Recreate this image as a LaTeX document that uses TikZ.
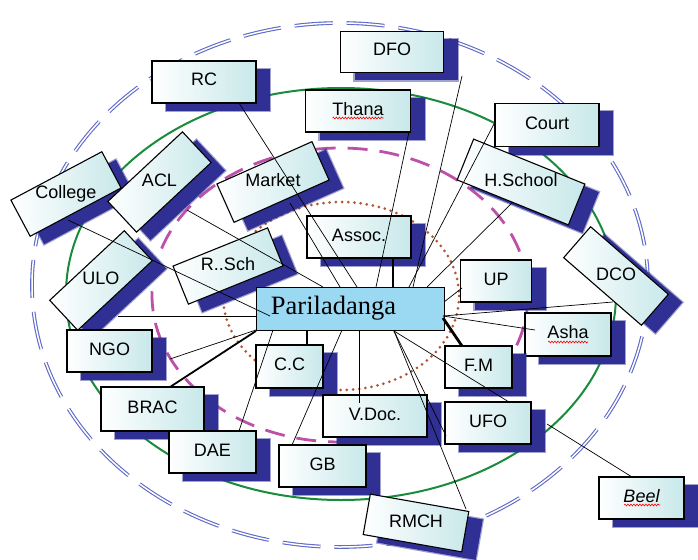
\documentclass[tikz,border=0pt]{standalone}
\usepackage{fontspec}
\setmainfont{Liberation Serif}
\newfontfamily\lsans{Liberation Sans}
\usetikzlibrary{decorations.pathmorphing}
\definecolor{shadowblue}{RGB}{48,48,148}
\definecolor{boxteal}{RGB}{200,232,234}
\definecolor{pariblue}{RGB}{155,217,243}
\definecolor{ellblue}{RGB}{95,105,200}
\definecolor{ellgreen}{RGB}{25,140,60}
\definecolor{ellmag}{RGB}{190,80,170}
\definecolor{elldot}{RGB}{180,85,45}
\newcommand\nbox[7]{%
  \node[sbox, minimum width=#4pt, minimum height=#5pt, rotate=#6] (#1s) at (#2+14,#3+8) {};
  \node[mbox, minimum width=#4pt, minimum height=#5pt, rotate=#6] (#1) at (#2,#3) {};
  \node[lbl] (#1l) at (#1.center) {#7};}
\begin{document}
\begin{tikzpicture}[x=1pt,y=-1pt,
  sbox/.style={fill=shadowblue, draw=shadowblue, draw opacity=0.45, line width=2.4pt, inner sep=0pt},
  mbox/.style={draw=black, line width=1.1pt, left color=white, right color=boxteal, inner sep=0pt},
  lbl/.style={inner sep=0pt, font=\lsans\fontsize{18}{20}\selectfont, text height=13pt, text depth=5pt},
  conn/.style={line width=0.7pt},
  heavy/.style={line width=2.8pt},
  wavy/.style={red, line width=0.6pt, decorate, decoration={snake, amplitude=0.9pt, segment length=3pt}},
]
\useasboundingbox (0,0) rectangle (698,559);
% ellipses
\draw[ellblue, line width=1.1pt, double=white, double distance=1.5pt, dash pattern=on 38pt off 14pt] (340,285) ellipse [x radius=308, y radius=262];
\draw[ellgreen, line width=2pt] (341,294) ellipse [x radius=275, y radius=206];
\draw[ellmag, line width=2.8pt, dash pattern=on 20pt off 12pt] (340,295) ellipse [x radius=188, y radius=147];
\draw[elldot, line width=3pt, line cap=round, dash pattern=on 0pt off 6.2pt] (341,296) ellipse [x radius=118, y radius=94];
% boxes
\nbox{DFO}{392}{52}{103}{41}{0}{DFO}
\nbox{RC}{204}{82}{104}{42}{0}{RC}
\nbox{Thana}{358}{111}{105}{42}{0}{Thana}
\nbox{Court}{547}{125}{104}{43}{0}{Court}
\nbox{HSchool}{521}{182}{120}{44}{-22}{H.School}
\nbox{College}{66}{194}{103}{41}{28}{College}
\nbox{ACL}{159.5}{182}{102}{42}{43}{ACL}
\nbox{Market}{273}{182}{104}{42}{24}{Market}
\nbox{ULO}{101}{280.5}{102}{41}{43}{ULO}
\nbox{RSch}{228}{266}{102}{41}{22}{R..Sch}
\nbox{Assoc}{359}{237}{104}{42}{0}{Assoc.}
\nbox{UP}{496}{281}{71}{42}{0}{UP}
\nbox{DCO}{616}{276}{103}{41}{-41}{DCO}
\nbox{Asha}{568}{334.5}{86}{43}{0}{Asha}
\nbox{NGO}{109.5}{351}{85}{42}{0}{NGO}
\nbox{CC}{289.5}{366.5}{67}{43}{0}{C.C}
\nbox{FM}{478.5}{367}{67}{42}{0}{F.M}
\nbox{BRAC}{152.5}{409}{103}{44}{0}{BRAC}
\nbox{VDoc}{375}{416}{104}{42}{0}{V.Doc.}
\nbox{UFO}{488}{423}{86}{42}{0}{UFO}
\nbox{DAE}{212.5}{452}{87}{42}{0}{DAE}
\nbox{GB}{322.5}{466}{87}{42}{0}{GB}
\nbox{RMCH}{416}{523}{100}{41}{-10}{RMCH}
\nbox{Beel}{641.5}{498}{85}{42}{0}{\itshape Beel}
\node[draw=black, line width=1pt, fill=pariblue, minimum width=188pt, minimum height=43pt, inner sep=0pt,
  font=\fontsize{26.5}{28}\selectfont] (Pari) at (350,308.5) {Pariladanga\kern33pt\null};
% spell-check underlines
\draw[wavy] (332.5,118) -- (383.5,118);
\draw[wavy] (548,342) -- (588,342);
\draw[wavy] (624,505) -- (660,505);
% connector end points
\coordinate (pA) at (323,287);  \coordinate (eACL) at (187,210);
\coordinate (pM) at (340,287);  \coordinate (eMarket) at (290,203);
\coordinate (pR) at (357,287);  \coordinate (eRC) at (239,103);
\coordinate (pT) at (376,287);  \coordinate (eThana) at (409,132);
\coordinate (pAs) at (393,287); \coordinate (eAssoc) at (393,258);
\coordinate (pD) at (413,287);  \coordinate (eDFO) at (462,76);
\coordinate (pC) at (409,287);  \coordinate (eCourt) at (494,124);
\coordinate (pH) at (427,287);  \coordinate (eHSchool) at (512,203);
\coordinate (pU) at (444,302);  \coordinate (eUP) at (462,288);
\coordinate (pE) at (443,316);  \coordinate (eDCO) at (613,302);
\coordinate (eAsha) at (535,330);
\coordinate (pF) at (443,318);  \coordinate (eFM) at (462,346);
\coordinate (pB) at (394,331);  \coordinate (eUFOt) at (509,402);
\coordinate (eUFOl) at (446,436); \coordinate (eRMCH) at (466,509);
\coordinate (pV) at (359,330);  \coordinate (eVDoc) at (359,403);
\coordinate (pCC) at (307,330); \coordinate (eCC) at (307,345);
\coordinate (pG) at (342,330);  \coordinate (eGB) at (292,445);
\coordinate (pDA) at (273,330); \coordinate (eDAE) at (239,431);
\coordinate (pBR) at (256,331); \coordinate (eBRAC) at (170,387);
\coordinate (pN) at (256,330);  \coordinate (eNGO) at (170,359);
\coordinate (pUL) at (256,316); \coordinate (eULO) at (118,316);
\coordinate (pCo) at (270,316); \coordinate (eCollege) at (68,220);
\coordinate (eUFOr) at (547,424); \coordinate (eBeel) at (632,477);
% connectors
\draw[conn] (eACL) -- (pA);
\draw[conn] (eMarket) -- (pM);
\draw[conn] (eRC) -- (pR);
\draw[conn] (eThana) -- (pT);
\draw[heavy] (eAssoc) -- (pAs);
\draw[conn] (eDFO) -- (pD);
\draw[conn] (eCourt) -- (pC);
\draw[conn] (eHSchool) -- (pH);
\draw[conn] (eUP) -- (pU);
\draw[conn] (eDCO) -- (pE);
\draw[conn] (eAsha) -- (pE);
\draw[heavy] (pF) -- (eFM);
\draw[conn] (pB) -- (eUFOt);
\draw[conn] (pB) -- (eUFOl);
\draw[conn] (pB) -- (eRMCH);
\draw[conn] (pV) -- (eVDoc);
\draw[heavy] (pCC) -- (eCC);
\draw[conn] (pG) -- (eGB);
\draw[conn] (pDA) -- (eDAE);
\draw[line width=1.8pt] (pBR) -- (eBRAC);
\draw[conn] (pN) -- (eNGO);
\draw[conn] (pUL) -- (eULO);
\draw[conn] (pCo) -- (eCollege);
\draw[conn] (eUFOr) -- (eBeel);
\end{tikzpicture}
\end{document}
